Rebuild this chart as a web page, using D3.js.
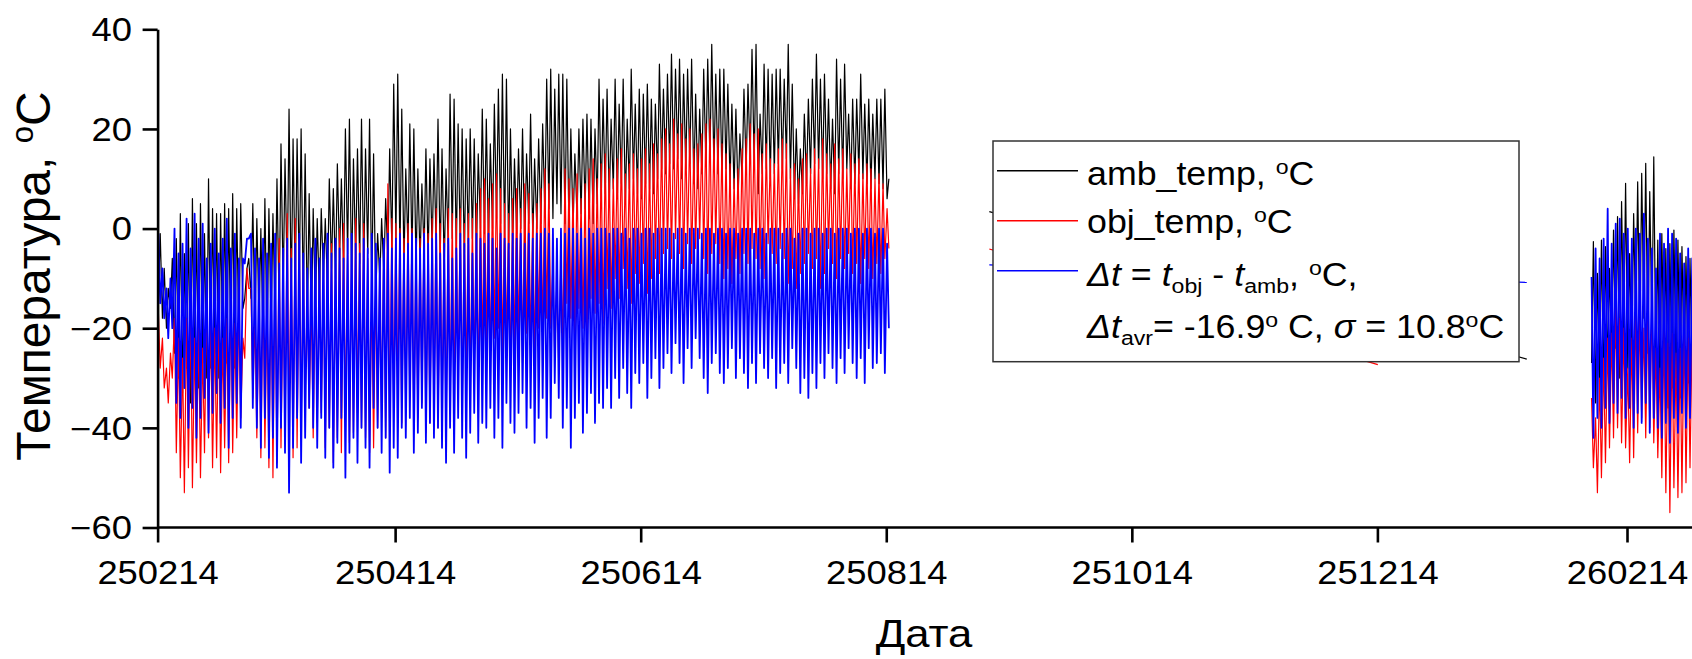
<!DOCTYPE html>
<html>
<head>
<meta charset="utf-8">
<script src="https://cdn.jsdelivr.net/npm/d3@7"></script>
<style>
body { margin: 0; background: #fff; }
svg { display: block; font-family: "Liberation Sans", Arial, sans-serif; }
</style>
</head>
<body>
<svg id="chart" width="1692" height="659"></svg>
<script>
// day 0 = 2025-02-14, one hi / lo pair per day
const mainStart = 0;
const ambHi = [
  -1, -8, -12, -6, -2, 3, -5, 1, 6, 1,
  5, -1, 10, 4, 3, 3, 5, 4, 7, 4,
  5, -14, -6, 5, 2, 0, 6, 4, 3, 10,
  17, 14, 24, 18, 18, 20, 15, 7, 4, 2,
  4, 2, 10, 8, 13, 10, 20, 22, 14, 16,
  22, 16, 22, 15, -1, 2, 6, 16, 29, 31,
  24, 12, 21, 20, 12, 9, 16, 14, 15, 22,
  16, 12, 27, 26, 21, 20, 18, 20, 18, 15,
  24, 22, 17, 25, 28, 31, 30, 20, 14, 16,
  20, 15, 23, 14, 18, 21, 30, 32, 28, 31,
  31, 30, 20, 15, 20, 22, 23, 22, 20, 30,
  26, 28, 22, 30, 25, 30, 22, 32, 25, 28,
  27, 29, 26, 25, 33, 28, 31, 35, 32, 34,
  31, 32, 34, 27, 24, 32, 34, 37, 31, 32,
  32, 29, 25, 24, 19, 28, 29, 36, 37, 23,
  33, 32, 31, 32, 32, 30, 37, 29, 20, 16,
  23, 26, 30, 35, 30, 31, 26, 22, 34, 30,
  33, 23, 26, 26, 31, 25, 26, 23, 26, 26,
  28, 10
];
const ambLo = [
  -14, -18, -20, -16, -25, -30, -33, -28, -35, -30,
  -32, -27, -30, -28, -25, -30, -26, -27, -24, -28,
  -22, -16, -8, -14, -20, -18, -22, -24, -20, -18,
  -16, -12, -10, -14, -12, -10, -15, -18, -20, -16,
  -14, -10, -12, -8, -10, -6, -8, -5, -10, -6,
  -7, -8, -5, -12, -14, -10, -9, -6, -4, -2,
  -5, -7, -4, -6, -8, -7, -5, -6, -4, -3,
  -6, -8, -3, -2, -5, -4, -6, -3, -2, -5,
  0, -1, -3, 0, 2, 1, -2, -4, -3, -1,
  0, -3, 1, -2, 0, 1, 3, 4, 2, 5,
  3, 1, -1, 0, 2, 3, 4, 2, 1, 5,
  6, 7, 5, 8, 6, 9, 5, 8, 10, 7,
  6, 9, 8, 7, 10, 12, 11, 13, 12, 14,
  10, 12, 13, 9, 8, 11, 13, 14, 12, 11,
  10, 12, 9, 8, 6, 10, 12, 14, 13, 7,
  11, 12, 10, 11, 13, 12, 14, 10, 6, 5,
  7, 9, 11, 13, 12, 10, 11, 8, 7, 11,
  10, 12, 8, 9, 11, 10, 9, 8, 10, 9,
  8, 6
];
const objHi = [
  -17, -22, -28, -25, -18, -22, -26, -18, -16, -22,
  -20, -24, -14, -18, -20, -16, -22, -18, -14, -19,
  -16, -22, -8, -12, -18, -15, -10, -15, -9, -6,
  -2, -10, 3, -4, 2, -2, -7, -12, -14, -10,
  -8, -8, -6, -3, -7, 0, 1, -5, -4, 2,
  -3, 1, -6, -12, -10, -8, -2, 9, 2, 1,
  0, -2, 1, 0, -3, -2, 0, -1, 2, 4,
  1, -2, 4, 3, 2, 4, 1, 3, 2, 5,
  8, 10, 6, 9, 11, 8, 5, 3, 6, 8,
  4, 9, 7, 3, 5, 8, 12, 9, -7, -10,
  -5, 12, 10, 8, 11, 6, 9, 12, 14, 10,
  13, 15, 12, 10, 14, 16, 11, 13, 15, 12,
  14, 16, 13, 17, 15, 18, 20, 17, 22, 19,
  21, 18, 20, 16, 17, 19, 21, 22, 18, 20,
  17, 15, 13, 10, 12, 16, 18, 21, 19, 20,
  15, 17, 14, 13, 16, 18, 17, 12, 13, 10,
  14, 15, 12, 16, 14, 18, 15, 13, 17, 14,
  16, 12, 15, 13, 14, 11, 13, 12, 10, 11,
  9, 4
];
const objLo = [
  -28, -32, -35, -30, -45, -50, -53, -48, -52, -47,
  -50, -45, -42, -48, -46, -49, -44, -47, -45, -42,
  -38, -26, -12, -34, -42, -46, -44, -48, -50, -47,
  -44, -42, -39, -46, -44, -40, -34, -36, -42, -39,
  -37, -44, -40, -47, -42, -45, -39, -43, -41, -37,
  -40, -42, -45, -44, -40, -38, -42, -41, -36, -34,
  -39, -37, -34, -40, -38, -35, -41, -39, -37, -40,
  -38, -41, -36, -34, -32, -37, -31, -33, -29, -34,
  -26, -24, -28, -22, -20, -26, -23, -30, -25, -22,
  -27, -21, -24, -26, -20, -22, -18, -20, -26, -28,
  -24, -15, -18, -22, -16, -20, -23, -14, -17, -15,
  -19, -12, -16, -10, -14, -8, -12, -15, -9, -11,
  -7, -13, -10, -6, -9, -5, -4, -6, -2, -5,
  -8, -3, -7, -4, -2, -6, -9, -5, -3, -7,
  -10, -8, -11, -6, -9, -5, -7, -4, -6, -8,
  -10, -3, -5, -7, -4, -6, -11, -8, -12, -9,
  -7, -5, -8, -6, -12, -9, -4, -7, -10, -6,
  -8, -5, -9, -7, -11, -6, -8, -10, -7, -9,
  -6, -4
];
const dtHi = [
  -1, -8, -12, -10, 0, -5, -3, 2, -4, 3,
  -2, 1, -6, -3, 0, -5, -2, 2, -4, -1,
  -6, -6, -2, -1, -4, -6, -2, -5, -3, -1,
  -7, -4, -2, -6, -3, -1, -5, -8, -4, -2,
  -6, -3, -1, -5, -2, -4, -6, -2, -1, -3,
  -5, -2, -4, -1, -3, -6, -2, -1, -4, -2,
  -1, -5, -3, -1, -2, -4, -1, -3, -2, -1,
  -5, -3, -2, -6, -4, -1, -3, -2, -5, -1,
  -2, -3, -1, -2, -4, -1, -2, -3, -1, -2,
  -1, -3, -1, -2, -1, -1, 0, -1, 0, -2,
  0, -1, 0, 0, -1, 0, -2, 0, -1, 0,
  0, 0, -1, 0, 0, -1, 0, -2, 0, 0,
  -1, 0, 0, -1, 0, 0, 0, 0, -1, 0,
  0, -1, 0, 0, 0, -1, 0, 0, -1, 0,
  0, -1, 0, 0, -1, 0, 0, 0, -1, 0,
  0, -1, 0, 0, 0, -1, 0, 0, -2, -1,
  0, 0, -1, 0, 0, -1, 0, 0, -1, 0,
  0, 0, -1, 0, 0, -1, 0, 0, -1, 0,
  0, -3
];
const dtLo = [
  -15, -18, -22, -20, -35, -38, -32, -40, -36, -42,
  -38, -34, -41, -37, -33, -39, -36, -44, -38, -35,
  -40, -7, -2, -36, -40, -44, -38, -46, -42, -48,
  -40, -45, -53, -44, -38, -47, -42, -36, -40, -44,
  -38, -46, -40, -48, -43, -38, -50, -45, -42, -47,
  -40, -44, -48, -36, -40, -45, -42, -49, -44, -46,
  -40, -42, -38, -45, -41, -36, -43, -39, -42, -40,
  -44, -47, -40, -45, -38, -42, -46, -41, -37, -43,
  -39, -40, -36, -42, -38, -44, -35, -39, -41, -37,
  -33, -40, -36, -43, -38, -34, -42, -38, -31, -34,
  -40, -36, -44, -38, -35, -41, -37, -33, -39, -35,
  -36, -32, -36, -30, -34, -28, -33, -36, -29, -31,
  -27, -34, -30, -26, -32, -28, -25, -29, -23, -27,
  -31, -24, -28, -22, -26, -30, -33, -27, -25, -29,
  -31, -28, -24, -30, -26, -29, -32, -27, -31, -25,
  -28, -30, -26, -32, -29, -27, -31, -24, -28, -33,
  -30, -34, -29, -32, -27, -30, -25, -28, -31, -26,
  -29, -24, -27, -30, -26, -31, -24, -28, -27, -25,
  -29, -20
];

// two lone readings in autumn/winter, joined by a line
const gapDays = [206.6, 340.1];
const gapObjDays = [206.6, 303.1];
const gapAmb = [3.4, -26.2];
const gapObj = [-4.1, -27.3];
const gapDt = [-7.3, -10.8];

// winter block, day 356 = 2026-02-04
const endStart = 356;
const endAmbHi = [-2.6, -9, -2.3, -3.6, -8, -0.3, 2.4, 5.4, 9.1, -5, 3, 9.4, 11.1, 13.1, 7.4, 14.4, -2.3, -1, -4, -3, -0.3, -2.3, -3.6, -5.6, -6, -7];
const endAmbLo = [-27, -35, -30, -32, -28, -26, -24, -30, -22, -28, -25, -20, -23, -18, -25, -20, -30, -33, -28, -36, -32, -30, -34, -29, -31, -30];
const endObjHi = [-34, -38, -30, -26, -22, -21, -15, -18, -20, -28, -22, -16, -18, -20, -16, -15, -24, -28, -20, -23, -21, -25, -24, -19, -22, -20];
const endObjLo = [-48, -53, -50, -47, -44, -42, -40, -43, -44, -47, -46, -41, -38, -42, -40, -43, -46, -50, -53, -57, -52, -54, -53, -51, -48, -50];
const endDtHi = [-9.7, -4, -6, -2, 4, -3, 1, 2, -1, 0, -2, 0, -1, 3, -2, -4, -8, -1, -3, 0, -1, -2, -5, -7, -4, -6];
const endDtLo = [-42, -38, -40, -36, -39, -35, -37, -34, -38, -36, -40, -37, -39, -35, -41, -38, -40, -42, -39, -43, -38, -41, -37, -40, -38, -36];

const majorTicks = ["2025-02-14", "2025-04-14", "2025-06-14", "2025-08-14", "2025-10-14", "2025-12-14", "2026-02-14"];
const minorTicks = ["2025-03-14", "2025-05-14", "2025-07-14", "2025-09-14", "2025-11-14", "2026-01-14"];
const yMajor = [-60, -40, -20, 0, 20, 40];
const yMinor = [-50, -30, -10, 10, 30];

const SX = 1.12;   // axis text is a little wider than Arial
const SXL = 1.10;  // legend text
const t0 = Date.UTC(2025, 1, 14);
const toDate = d => new Date(t0 + d * 864e5);
const parse = d3.utcParse("%Y-%m-%d");

const svg = d3.select("#chart");
const x = d3.scaleUtc().domain([toDate(0), toDate(365)]).range([157.6, 1627]);
const y = d3.scaleLinear().domain([-60, 40]).range([527.5, 29.3]);

// hi/lo per day -> two points a day
function daily(start, hi, lo, hiFirst) {
  const pts = [];
  for (let i = 0; i < Math.min(hi.length, lo.length); i++) {
    pts.push({d: start + i + 0.2, v: hiFirst ? hi[i] : lo[i]});
    pts.push({d: start + i + 0.65, v: hiFirst ? lo[i] : hi[i]});
  }
  return pts;
}
const sparse = (days, vals) => days.map((d, i) => ({d: d, v: vals[i]}));

const line = d3.line().x(p => x(toDate(p.d))).y(p => y(p.v));

const series = [
  {color: "#000000", width: 1.2, parts: [daily(mainStart, ambHi, ambLo, false), sparse(gapDays, gapAmb), daily(endStart, endAmbHi, endAmbLo, false)]},
  {color: "#ff0000", width: 1.2, parts: [daily(mainStart, objHi, objLo, true), sparse(gapObjDays, gapObj), daily(endStart, endObjHi, endObjLo, true)]},
  {color: "#0000ff", width: 1.8, parts: [daily(mainStart, dtHi, dtLo, true), sparse(gapDays, gapDt), daily(endStart, endDtHi, endDtLo, true)]}
];

const plot = svg.append("g").attr("class", "lines");
series.forEach(s => {
  plot.selectAll(null)
    .data(s.parts)
    .enter().append("path")
      .attr("d", line)
      .attr("fill", "none")
      .attr("stroke", s.color)
      .attr("stroke-width", (d, i) => i === 1 ? 1.2 : s.width)
      .attr("stroke-linejoin", "round");
});

// axes
const axisW = 2.6;
const xg = svg.append("g").attr("transform", `translate(0,${y(-60)})`);
xg.call(d3.axisBottom(x).tickValues(minorTicks.map(parse)).tickSize(8).tickSizeOuter(0).tickFormat(""));
xg.call(d3.axisBottom(x).tickValues(majorTicks.map(parse)).tickSize(15).tickSizeOuter(0).tickFormat(d3.utcFormat("%y%m%d")));
xg.select(".domain").attr("d", "M157.6,0H1692");
xg.selectAll("path, line").attr("stroke", "#000").attr("stroke-width", axisW);
xg.selectAll("text")
  .attr("y", 56.5).attr("dy", 0)
  .attr("transform", `scale(${SX},1)`)
  .style("font-size", "32.5px").attr("fill", "#000");

const yg = svg.append("g").attr("transform", `translate(${x(toDate(0))},0)`);
yg.call(d3.axisLeft(y).tickValues(yMinor).tickSize(8).tickSizeOuter(0).tickFormat(""));
yg.call(d3.axisLeft(y).tickValues(yMajor).tickSize(15).tickSizeOuter(0));
yg.selectAll("path, line").attr("stroke", "#000").attr("stroke-width", axisW);
yg.selectAll("text")
  .attr("x", -25.6 / SX).attr("dy", "0.35em")
  .attr("transform", `scale(${SX},1)`)
  .style("font-size", "32.5px").attr("fill", "#000");

// raised / lowered small text, then back to the baseline
function sup(t, s, after, size, lift) {
  t.append("tspan").attr("dy", -lift).style("font-size", size + "px").text(s);
  t.append("tspan").attr("dy", lift).text(after);
}
function sub(t, s, after) {
  t.append("tspan").attr("dy", 7).style("font-size", "21px").text(s);
  t.append("tspan").attr("dy", -7).text(after);
}

// axis titles
const yt = svg.append("text")
  .attr("transform", "translate(50,276) rotate(-90)")
  .attr("text-anchor", "middle")
  .style("font-size", "48px");
yt.append("tspan").text("Температура, ");
sup(yt, "o", "C", 31, 17);

svg.append("text")
  .attr("transform", `translate(924,647) scale(${SX},1)`)
  .attr("text-anchor", "middle")
  .style("font-size", "39px")
  .text("Дата");

// legend
const lg = svg.append("g");
lg.append("rect")
  .attr("x", 993).attr("y", 141).attr("width", 526).attr("height", 220.7)
  .attr("fill", "#fff").attr("stroke", "#333").attr("stroke-width", 1.5);

const legendRows = [
  {color: "#000000", ly: 170.7},
  {color: "#ff0000", ly: 220.7},
  {color: "#0000ff", ly: 270.7}
];
lg.selectAll("line.key")
  .data(legendRows)
  .enter().append("line")
    .attr("class", "key")
    .attr("x1", 997).attr("x2", 1078)
    .attr("y1", d => d.ly).attr("y2", d => d.ly)
    .attr("stroke", d => d.color).attr("stroke-width", 1.5);

function legendText(ty) {
  return lg.append("text")
    .attr("transform", `translate(1087,${ty}) scale(${SXL},1)`)
    .style("font-size", "32.5px");
}

let t = legendText(185);
t.append("tspan").text("amb_temp, ");
sup(t, "o", "C", 21, 11);

t = legendText(233);
t.append("tspan").text("obj_temp, ");
sup(t, "o", "C", 21, 11);

t = legendText(286);
t.append("tspan").style("font-style", "italic").text("Δt");
t.append("tspan").text(" = ");
t.append("tspan").style("font-style", "italic").text("t");
sub(t, "obj", " - ");
t.append("tspan").style("font-style", "italic").text("t");
sub(t, "amb", ", ");
sup(t, "o", "C,", 21, 11);

t = legendText(338);
t.append("tspan").style("font-style", "italic").text("Δt");
sub(t, "avr", "= -16.9");
sup(t, "o", " C, ", 21, 11);
t.append("tspan").style("font-style", "italic").text("σ");
t.append("tspan").text(" = 10.8");
sup(t, "o", "C", 21, 11);
</script>
</body>
</html>
